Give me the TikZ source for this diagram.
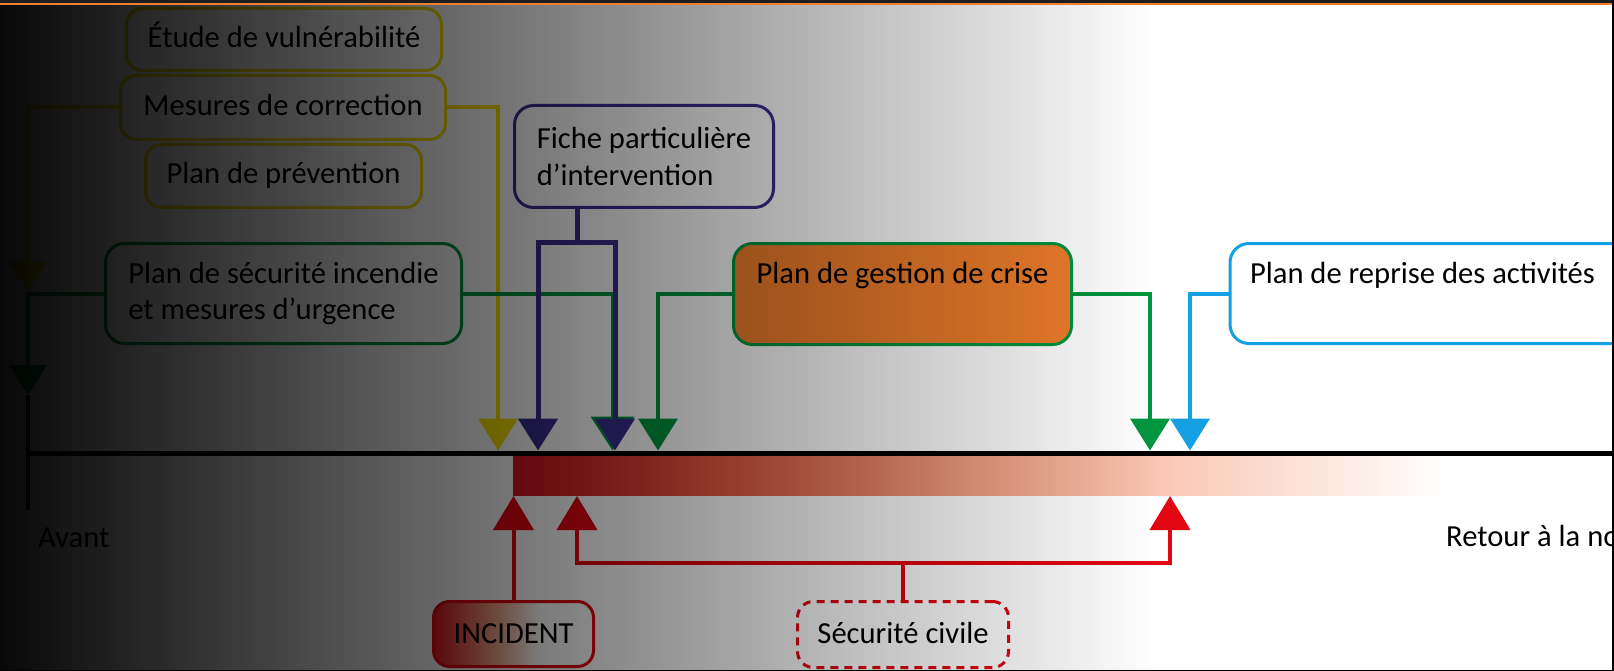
\documentclass[tikz,border=0pt]{standalone}
\usepackage{fontspec}
\setmainfont{Carlito}
\usetikzlibrary{arrows.meta,fadings}
\definecolor{cyel}{RGB}{245,225,0}
\definecolor{cnavy}{RGB}{58,47,143}
\definecolor{cgreen}{RGB}{0,150,64}
\definecolor{cblue}{RGB}{20,160,226}
\definecolor{cred}{RGB}{227,6,19}
\definecolor{corange}{RGB}{240,126,44}
\definecolor{ctopo}{RGB}{240,128,48}
\definecolor{ctopd}{RGB}{30,30,30}
\definecolor{ba}{RGB}{215,20,30}
\definecolor{bb}{RGB}{228,85,62}
\definecolor{bc}{RGB}{245,165,135}
\definecolor{bd}{RGB}{249,200,180}
\definecolor{ia}{RGB}{225,25,25}
\definecolor{ib}{RGB}{240,150,120}
\pgfdeclarehorizontalshading{barshade}{100bp}{color(0bp)=(ba); color(25bp)=(ba); color(35bp)=(bb); color(50bp)=(bc); color(60bp)=(bd); color(75bp)=(white); color(100bp)=(white)}
\pgfdeclarehorizontalshading{incshade}{100bp}{color(0bp)=(ia); color(25bp)=(ia); color(42bp)=(ib); color(58bp)=(white); color(100bp)=(white)}
\tikzfading[name=darkfade, left color=transparent!3, right color=transparent!100]
\tikzset{
  every node/.style={font=\fontsize{30.6}{36.5}\selectfont, text=black},
  bx/.style={rounded corners=16pt, line width=3pt, inner sep=0pt, text height=22.5pt, text depth=7pt},
  bxbig/.style={rounded corners=19pt, line width=3pt, inner sep=0pt},
  conn/.style={line width=4pt},
  dn/.style={-{Triangle[width=39pt,length=32pt]}},
  dnsmall/.style={-{Triangle[width=37pt,length=30pt]}},
  upr/.style={-{Triangle[width=40pt,length=34pt]}},
}
\begin{document}
\begin{tikzpicture}[x=1pt,y=-1pt]
\useasboundingbox (0,0) rectangle (1614,671);
\clip (0,0) rectangle (1614,671);
\fill[white] (0,0) rectangle (1614,671);

% red bar
\shade[shading=barshade] (513,456) rectangle (1446,495);

% boxes
\node[bx, draw=cyel, minimum width=315pt, minimum height=62pt] (etude) at (284,39.5) {Étude de vulnérabilité};
\node[bx, draw=cyel, minimum width=325pt, minimum height=64pt] (mesures) at (283,107.5) {Mesures de correction};
\node[bx, draw=cyel, minimum width=276pt, minimum height=63pt] (prev) at (283.5,176) {Plan de prévention};
\node[bxbig, draw=cgreen, align=left, minimum width=356pt, minimum height=100pt] (psi) at (283.5,293.5) {Plan de sécurité incendie\\et mesures d’urgence};
\node[bxbig, draw=cnavy, align=left, minimum width=259pt, minimum height=102pt] (fiche) at (644,156.5) {Fiche particulière\\d’intervention};
\node[bxbig, draw=cgreen, fill=corange, minimum width=338pt, minimum height=101pt, text height=39.5pt, text depth=61.5pt] (pgc) at (902.5,294) {Plan de gestion de crise};
\node[bxbig, draw=cblue, fill=white, anchor=west, inner xsep=20pt, text width=400pt, align=flush left, minimum height=100pt, text height=39.5pt, text depth=60.5pt] (pra) at (1228.5,293.5) {Plan de reprise des activités};
\node[bx, draw=cred, line width=3pt, shading=incshade, minimum width=160pt, minimum height=65pt, text height=25pt] (incident) at (513.5,634) {INCIDENT};
\node[bx, draw=cred, dash pattern=on 8pt off 6pt, minimum width=211pt, minimum height=66pt, text height=24pt] (sc) at (903,634.5) {Sécurité civile};
\node[anchor=base west, inner sep=0pt] (avant) at (38,547) {Avant};
\node[anchor=base west, inner sep=0pt] (retour) at (1446,546) {Retour à la normale};

% coordinates
\coordinate (tY0) at (28,291.5);
\coordinate (tG0) at (28,395);
\coordinate (tick) at (28,510);
\coordinate (tY) at (498,450.5);
\coordinate (fbr) at (577,242);
\coordinate (tN1) at (538,450.5);
\coordinate (tN2) at (615,450.5);
\coordinate (tG1) at (612.5,450.5);
\coordinate (tG2) at (658,450.5);
\coordinate (tG3) at (1150,450.5);
\coordinate (tB) at (1190,450.5);
\coordinate (tlL) at (28,453);
\coordinate (tlR) at (1620,453);
\coordinate (tR1) at (513.5,496);
\coordinate (sbr) at (903,563);
\coordinate (tR2) at (577,496);
\coordinate (tR3) at (1170,496);

% timeline
\draw[line width=5pt] (tlL) -- (tlR);
\draw[line width=4.5pt] (tG0) -- (tick);

% connectors
\draw[conn, cyel, dnsmall] (mesures.west) -| (tY0);
\draw[conn, cgreen, dnsmall] (psi.west) -| (tG0);
\draw[conn, cyel, dn] (mesures.east) -| (tY);
\draw[conn, cgreen, -{Triangle[width=43pt,length=34pt]}] (psi.east) -| (tG1);
\draw[conn, cnavy, line width=5pt] (fiche.south -| fbr) -- (fbr);
\draw[conn, cnavy, line width=5pt, dn] (fbr) -| (tN1);
\draw[conn, cnavy, line width=5pt, dn] (fbr) -| (tN2);
\draw[conn, cgreen, dn] (pgc.west) -| (tG2);
\draw[conn, cgreen, dn] (pgc.east) -| (tG3);
\draw[conn, cblue, dn] (pra.west) -| (tB);
\draw[conn, cred, upr] (incident.north) -- (tR1);
\draw[conn, cred] (sc.north) -- (sbr);
\draw[conn, cred, upr] (sbr) -| (tR2);
\draw[conn, cred, upr] (sbr) -| (tR3);

% dark overlay
\fill[black, path fading=darkfade] (0,0) rectangle (1154,671);

% frame
\fill[ctopd] (0,0) rectangle (1614,3);
\fill[ctopo] (0,3) rectangle (1614,5.5);
\fill[black] (1611.5,0) rectangle (1614,671);
\fill[black] (0,669.5) rectangle (1614,671);
\end{tikzpicture}
\end{document}
